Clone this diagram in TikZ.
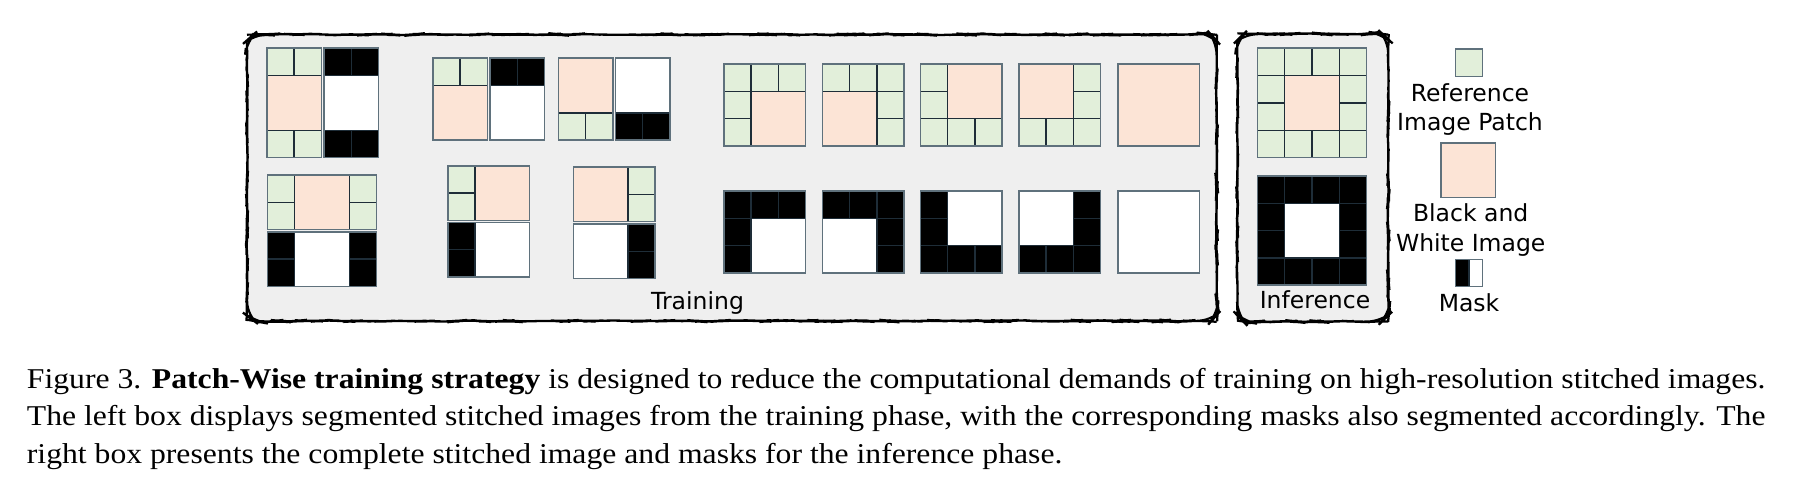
\documentclass[tikz,border=0pt]{standalone}
\usepackage{graphicx}
\usepackage{fontspec}
\setmainfont{DejaVu Sans}
\newfontfamily\capfont{Liberation Serif}
\usetikzlibrary{decorations.pathmorphing}
\definecolor{gcell}{HTML}{E2EFDA}
\definecolor{pcell}{HTML}{FCE4D6}
\definecolor{boxbg}{HTML}{EFEFEF}
\definecolor{gridln}{HTML}{1E2D38}
\definecolor{outln}{HTML}{5F717C}
\newcommand\cs{27.3}
\newcommand\cl[3]{\path[#3] ({#1*\cs},{#2*\cs}) rectangle ++(\cs,\cs);}
\newcommand\bg[5]{\path[#5] ({#1*\cs},{#2*\cs}) rectangle ++({#3*\cs},{#4*\cs});}
\newcommand\fr[2]{\draw[outer] (0,0) rectangle ({#1*\cs},{#2*\cs});}
\newcommand\capfmt{\capfont\fontsize{28.7}{37.5}\selectfont}
\newsavebox\capone
\newdimen\capw
\newdimen\capiw
\tikzset{
  gc/.style={fill=gcell, draw=gridln, line width=1.3pt},
  pc/.style={fill=pcell, draw=gridln, line width=1.3pt},
  bc/.style={fill=black, draw=gridln, line width=1.3pt},
  wc/.style={fill=white, draw=gridln, line width=1.3pt},
  outer/.style={draw=outln, line width=1.6pt},
  wavy/.style={draw=black, line width=2.2pt, fill=boxbg,
    decoration={random steps, segment length=8pt, amplitude=0.6pt},
    decorate, rounded corners=14pt},
  lbl/.style={font=\fontsize{23.5}{28}\selectfont, anchor=base, inner sep=0pt}
}
\begin{document}
\sbox\capone{\capfmt Figure 3. \textbf{Patch-Wise training strategy} is designed to reduce the computational demands of training on high-resolution stitched images.}%
\capw=\wd\capone
\capiw=\capw
\advance\capiw by 0.5pt
\pgfmathsetmacro\capratio{1738/\capw}%
\begin{tikzpicture}[x=1pt, y=-1pt]
\useasboundingbox (0,0) rectangle (1793,487);
\pgfmathsetseed{7}
% boxes
\draw[wavy] (247,34.5) rectangle (1216.7,321);
\draw[wavy] (1237.3,34) rectangle (1388.3,321.5);

% ---------- top-left groups ----------
\begin{scope}[shift={(266.7,48.3)}]
  \cl{0}{0}{gc}\cl{1}{0}{gc}\bg{0}{1}{2}{2}{pc}\cl{0}{3}{gc}\cl{1}{3}{gc}\fr{2}{4}
\end{scope}
\begin{scope}[shift={(324,48.3)}]
  \cl{0}{0}{bc}\cl{1}{0}{bc}\bg{0}{1}{2}{2}{wc}\cl{0}{3}{bc}\cl{1}{3}{bc}\fr{2}{4}
\end{scope}
\begin{scope}[shift={(432.7,58.3)}]
  \cl{0}{0}{gc}\cl{1}{0}{gc}\bg{0}{1}{2}{2}{pc}\fr{2}{3}
\end{scope}
\begin{scope}[shift={(490,58.3)}]
  \cl{0}{0}{bc}\cl{1}{0}{bc}\bg{0}{1}{2}{2}{wc}\fr{2}{3}
\end{scope}
\begin{scope}[shift={(558.3,58.3)}]
  \bg{0}{0}{2}{2}{pc}\cl{0}{2}{gc}\cl{1}{2}{gc}\fr{2}{3}
\end{scope}
\begin{scope}[shift={(615.3,58.3)}]
  \bg{0}{0}{2}{2}{wc}\cl{0}{2}{bc}\cl{1}{2}{bc}\fr{2}{3}
\end{scope}

% ---------- bottom-left groups ----------
\begin{scope}[shift={(267.3,175)}]
  \cl{0}{0}{gc}\cl{0}{1}{gc}\bg{1}{0}{2}{2}{pc}\cl{3}{0}{gc}\cl{3}{1}{gc}\fr{4}{2}
\end{scope}
\begin{scope}[shift={(267.3,231.7)}]
  \cl{0}{0}{bc}\cl{0}{1}{bc}\bg{1}{0}{2}{2}{wc}\cl{3}{0}{bc}\cl{3}{1}{bc}\fr{4}{2}
\end{scope}
\begin{scope}[shift={(447.7,165.7)}]
  \cl{0}{0}{gc}\cl{0}{1}{gc}\bg{1}{0}{2}{2}{pc}\fr{3}{2}
\end{scope}
\begin{scope}[shift={(447.7,222.3)}]
  \cl{0}{0}{bc}\cl{0}{1}{bc}\bg{1}{0}{2}{2}{wc}\fr{3}{2}
\end{scope}
\begin{scope}[shift={(573.3,167)}]
  \bg{0}{0}{2}{2}{pc}\cl{2}{0}{gc}\cl{2}{1}{gc}\fr{3}{2}
\end{scope}
\begin{scope}[shift={(573.3,224)}]
  \bg{0}{0}{2}{2}{wc}\cl{2}{0}{bc}\cl{2}{1}{bc}\fr{3}{2}
\end{scope}

% ---------- 3x3 squares ----------
\begin{scope}[shift={(723.7,64)}]
  \foreach \i/\j in {0/0,1/0,2/0,0/1,0/2}{\cl{\i}{\j}{gc}}\bg{1}{1}{2}{2}{pc}\fr{3}{3}
\end{scope}
\begin{scope}[shift={(723.7,191)}]
  \foreach \i/\j in {0/0,1/0,2/0,0/1,0/2}{\cl{\i}{\j}{bc}}\bg{1}{1}{2}{2}{wc}\fr{3}{3}
\end{scope}
\begin{scope}[shift={(822.3,64)}]
  \foreach \i/\j in {0/0,1/0,2/0,2/1,2/2}{\cl{\i}{\j}{gc}}\bg{0}{1}{2}{2}{pc}\fr{3}{3}
\end{scope}
\begin{scope}[shift={(822.3,191)}]
  \foreach \i/\j in {0/0,1/0,2/0,2/1,2/2}{\cl{\i}{\j}{bc}}\bg{0}{1}{2}{2}{wc}\fr{3}{3}
\end{scope}
\begin{scope}[shift={(920.3,64)}]
  \foreach \i/\j in {0/0,0/1,0/2,1/2,2/2}{\cl{\i}{\j}{gc}}\bg{1}{0}{2}{2}{pc}\fr{3}{3}
\end{scope}
\begin{scope}[shift={(920.3,191)}]
  \foreach \i/\j in {0/0,0/1,0/2,1/2,2/2}{\cl{\i}{\j}{bc}}\bg{1}{0}{2}{2}{wc}\fr{3}{3}
\end{scope}
\begin{scope}[shift={(1018.7,64)}]
  \foreach \i/\j in {2/0,2/1,0/2,1/2,2/2}{\cl{\i}{\j}{gc}}\bg{0}{0}{2}{2}{pc}\fr{3}{3}
\end{scope}
\begin{scope}[shift={(1018.7,191)}]
  \foreach \i/\j in {2/0,2/1,0/2,1/2,2/2}{\cl{\i}{\j}{bc}}\bg{0}{0}{2}{2}{wc}\fr{3}{3}
\end{scope}
\begin{scope}[shift={(1117.7,64)}]
  \bg{0}{0}{3}{3}{pc}\fr{3}{3}
\end{scope}
\begin{scope}[shift={(1117.7,191)}]
  \bg{0}{0}{3}{3}{wc}\fr{3}{3}
\end{scope}

% ---------- inference ----------
\begin{scope}[shift={(1257.3,48.3)}]
  \foreach \i/\j in {0/0,1/0,2/0,3/0,0/1,3/1,0/2,3/2,0/3,1/3,2/3,3/3}{\cl{\i}{\j}{gc}}
  \bg{1}{1}{2}{2}{pc}\fr{4}{4}
\end{scope}
\begin{scope}[shift={(1257.3,176)}]
  \foreach \i/\j in {0/0,1/0,2/0,3/0,0/1,3/1,0/2,3/2,0/3,1/3,2/3,3/3}{\cl{\i}{\j}{bc}}
  \bg{1}{1}{2}{2}{wc}\fr{4}{4}
\end{scope}

% ---------- legend ----------
\begin{scope}[shift={(1455.3,49.3)}]
  \cl{0}{0}{gc}\fr{1}{1}
\end{scope}
\begin{scope}[shift={(1441,142.7)}]
  \bg{0}{0}{2}{2}{pc}\fr{2}{2}
\end{scope}
\begin{scope}[shift={(1455.3,259.3)}]
  \path[bc] (0,0) rectangle ({\cs/2},\cs);
  \path[wc] ({\cs/2},0) rectangle (\cs,\cs);
  \fr{1}{1}
\end{scope}

% ---------- labels ----------
\node[lbl] (train) at (697.5,309.3) {Training};
\node[lbl] (infer) at (1315,308) {Inference};
\node[lbl] (ref1) at (1470,101) {Reference};
\node[lbl] (ref2) at (1470,130.7) {Image Patch};
\node[lbl] (bw1) at (1470.7,221.7) {Black and};
\node[lbl] (bw2) at (1470.7,251.7) {White Image};
\node[lbl] (mask) at (1469,311.7) {Mask};

% ---------- caption ----------
\node[anchor=base west, inner sep=0pt] (cap) at (26.7,388.3) {\scalebox{\capratio}[1]{\parbox[t]{\capiw}{\capfmt
Figure 3. \textbf{Patch-Wise training strategy} is designed to reduce the computational demands of training on high-resolution stitched images.\linebreak
The left box displays segmented stitched images from the training phase, with the corresponding masks also segmented accordingly. The\linebreak
right box presents the complete stitched image and masks for the inference phase.}}};
\end{tikzpicture}
\end{document}
